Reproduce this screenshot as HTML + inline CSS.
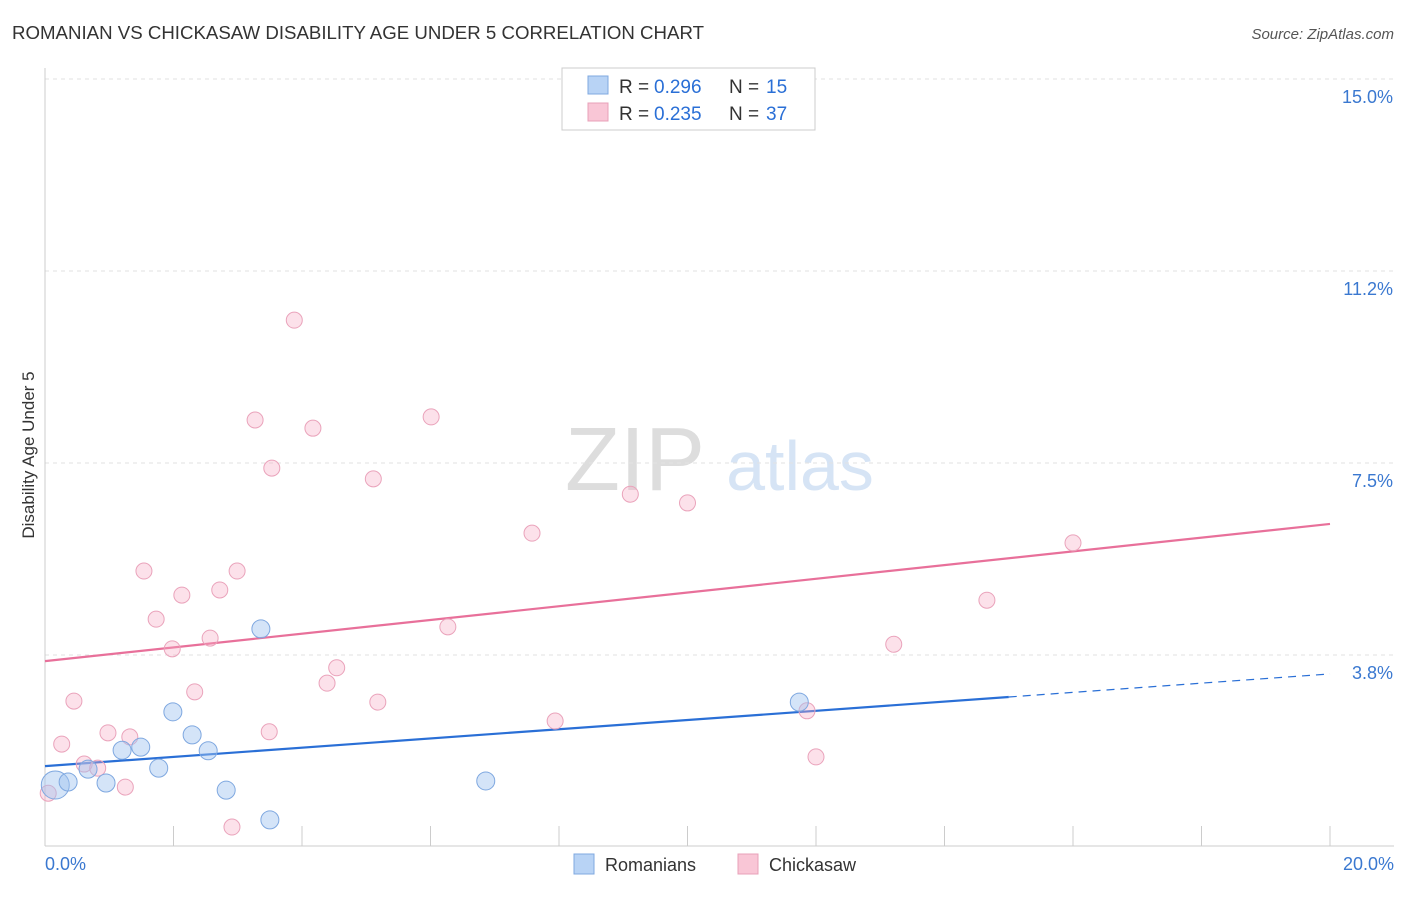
<!DOCTYPE html>
<html><head><meta charset="utf-8"><style>
body{margin:0;background:#fff;font-family:"Liberation Sans",sans-serif;}
svg text{font-family:"Liberation Sans",sans-serif;}
</style></head><body>
<svg id="c" width="1406" height="892" viewBox="0 0 1406 892" xmlns="http://www.w3.org/2000/svg">
<text x="12" y="39" font-size="18.5" fill="#333" textLength="692" lengthAdjust="spacingAndGlyphs">ROMANIAN VS CHICKASAW DISABILITY AGE UNDER 5 CORRELATION CHART</text>
<text x="1394" y="39" font-size="15" fill="#555" font-style="italic" text-anchor="end">Source: ZipAtlas.com</text>
<text x="34" y="455" font-size="17" fill="#333" text-anchor="middle" transform="rotate(-90 34 455)">Disability Age Under 5</text>
<g>
<text x="635" y="490" font-size="90" fill="#ddd" font-family="Liberation Serif" text-anchor="middle">ZIP</text>
<text x="800" y="490" font-size="70" fill="#d6e4f5" text-anchor="middle">atlas</text>
</g>
<g id="grid"></g><g id="axes"></g><g id="lines"></g><g id="pts"></g>
<g>
<rect x="562" y="68" width="253" height="62" fill="#fff" stroke="#ccc"/>
<rect x="588" y="76" width="20" height="18" fill="#b8d3f5" stroke="#7fa8e0"/>
<rect x="588" y="103" width="20" height="18" fill="#f9c6d6" stroke="#e8a0b8"/>
<text x="619" y="93" font-size="19" fill="#333">R = </text>
<text x="654" y="93" font-size="19" fill="#2a6fd6">0.296</text>
<text x="729" y="93" font-size="19" fill="#333">N = </text>
<text x="766" y="93" font-size="19" fill="#2a6fd6">15</text>
<text x="619" y="120" font-size="19" fill="#333">R = </text>
<text x="654" y="120" font-size="19" fill="#2a6fd6">0.235</text>
<text x="729" y="120" font-size="19" fill="#333">N = </text>
<text x="766" y="120" font-size="19" fill="#2a6fd6">37</text>
</g>
<g>
<rect x="574" y="854" width="20" height="20" fill="#b8d3f5" stroke="#7fa8e0"/>
<text x="605" y="871" font-size="18" fill="#333">Romanians</text>
<rect x="738" y="854" width="20" height="20" fill="#f9c6d6" stroke="#e8a0b8"/>
<text x="769" y="871" font-size="18" fill="#333">Chickasaw</text>
</g>
</svg>
<script>
const yTicks=[3.75,7.5,11.25,15];
const yTickLabels=["3.8%","7.5%","11.2%","15.0%"];
const xTicks=[0,2,4,6,8,10,12,14,16,18,20];
const xEndLabels=["0.0%","20.0%"];
const pinkX=[0.05,0.26,0.45,0.61,0.82,0.98,1.25,1.32,1.54,1.73,1.98,2.13,2.33,2.57,2.72,2.91,2.99,3.27,3.49,3.53,3.88,4.17,4.39,4.54,5.11,5.18,6.01,6.27,7.58,7.94,9.11,10.0,11.86,12.0,13.21,14.66,16.0];
const pinkY=[1.05,2.01,2.85,1.62,1.54,2.23,1.17,2.15,5.39,4.45,3.87,4.92,3.03,4.08,5.02,0.39,5.39,8.34,2.25,7.40,10.29,8.18,3.20,3.50,7.19,2.83,8.40,4.30,6.13,2.46,6.89,6.72,2.66,1.76,3.96,4.82,5.94];
const blueX=[0.16,0.36,0.67,0.95,1.20,1.49,1.77,1.99,2.29,2.54,2.82,3.36,3.50,6.86,11.74];
const blueY=[1.21,1.27,1.52,1.25,1.89,1.95,1.54,2.64,2.19,1.88,1.11,4.26,0.53,1.29,2.83];
const blueR=[14,9,9,9,9,9,9,9,9,9,9,9,9,9,9];
const pinkTrend=[3.63,6.31];
const blueTrend=[1.58,3.38];
const blueSolidEnd=15;
const NS="http://www.w3.org/2000/svg";
const sx=v=>45+v*64.25, sy=v=>847-v*51.2;
function mk(p,t,a){const e=document.createElementNS(NS,t);for(const k in a)e.setAttribute(k,a[k]);document.getElementById(p).appendChild(e);return e;}
yTicks.forEach((v,i)=>{
 const l=mk('grid','line',{x1:45,x2:1394,y1:sy(v),y2:sy(v),stroke:'#e2e2e2','stroke-dasharray':'4 4'});
 
 
 const t=mk('axes','text',{x:1393,y:sy(v)+24,'font-size':18,fill:'#3a78d0','text-anchor':'end'});
 t.textContent=yTickLabels[i];
 
 
});
const ax=mk('axes','line',{x1:45,x2:1394,y1:846,y2:846,stroke:'#ccc'});


const ay=mk('axes','line',{x1:45,x2:45,y1:68,y2:846,stroke:'#ccc'});


xTicks.forEach(v=>{
 const t=mk('axes','line',{x1:sx(v),x2:sx(v),y1:826,y2:846,stroke:'#ccc'});
 
 
});
[[0,'start',45],[20,'end',1394]].forEach((d,i)=>{
 const t=mk('axes','text',{x:d[2],y:870,'font-size':18,fill:'#3a78d0','text-anchor':d[1]});
 t.textContent=xEndLabels[i];
 
 
});
pinkX.forEach((x,i)=>{
 const c=mk('pts','circle',{cx:sx(x),cy:sy(pinkY[i]),r:8,fill:'rgba(245,170,195,0.35)',stroke:'#eaa3bb','stroke-width':1});
 
 
});
blueX.forEach((x,i)=>{
 const c=mk('pts','circle',{cx:sx(x),cy:sy(blueY[i]),r:blueR[i],fill:'rgba(160,195,240,0.45)',stroke:'#7fa8e0','stroke-width':1});
 
 
});
const pk=v=>pinkTrend[0]+(pinkTrend[1]-pinkTrend[0])*v/20;
const bl=v=>blueTrend[0]+(blueTrend[1]-blueTrend[0])*v/20;
const pl=mk('lines','line',{x1:sx(0),y1:sy(pk(0)),x2:sx(20),y2:sy(pk(20)),stroke:'#e8709a','stroke-width':2.2});


const bs=mk('lines','line',{x1:sx(0),y1:sy(bl(0)),x2:sx(blueSolidEnd),y2:sy(bl(blueSolidEnd)),stroke:'#2a6fd6','stroke-width':2.2});


const bd=mk('lines','line',{x1:sx(blueSolidEnd),y1:sy(bl(blueSolidEnd)),x2:sx(20),y2:sy(bl(20)),stroke:'#2a6fd6','stroke-width':1.2,'stroke-dasharray':'8 6'});


</script>
</body></html>
